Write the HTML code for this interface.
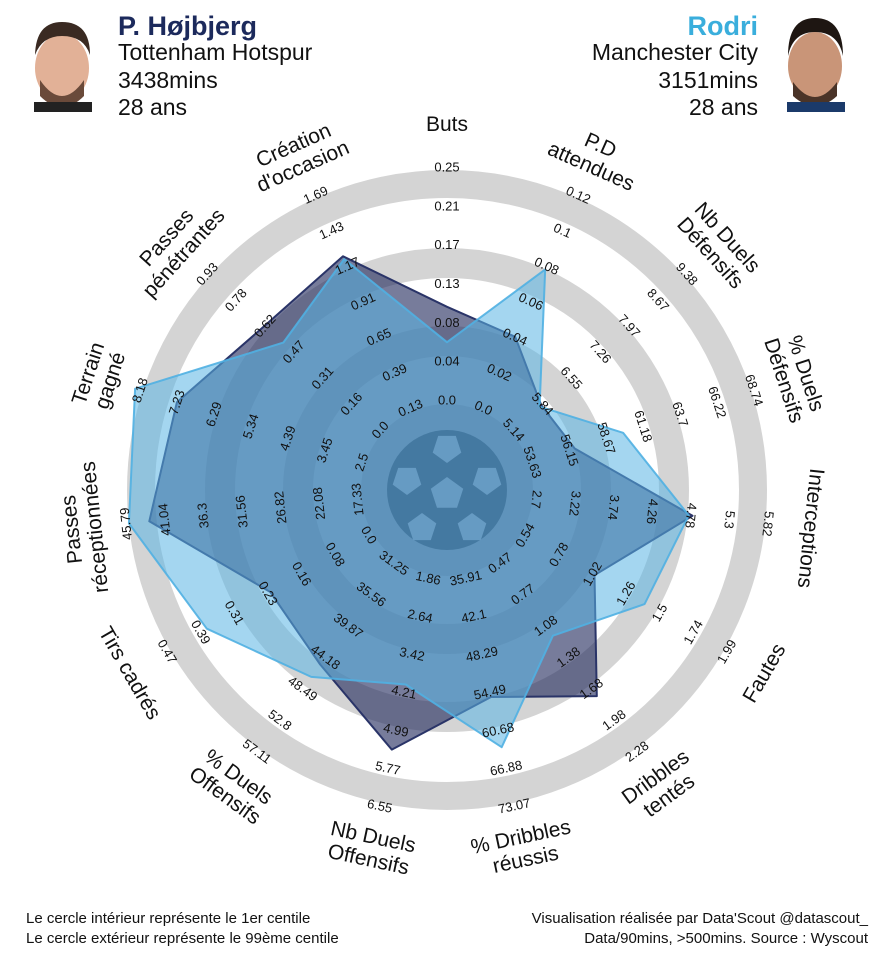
<!DOCTYPE html>
<html><head><meta charset="utf-8">
<style>
body{margin:0;background:#fff;}
svg{display:block;font-family:"Liberation Sans",sans-serif;}
</style></head>
<body>
<svg id="chart" width="880" height="978" viewBox="0 0 880 978" xmlns="http://www.w3.org/2000/svg">
  <rect width="880" height="978" fill="#fff"/>
  <!-- player photos (placeholder) -->
  <g>
    <rect x="30" y="20" width="66" height="92" fill="#fff"/>
    <ellipse cx="62" cy="68" rx="27" ry="34" fill="#e2b197"/>
    <path d="M35 55 Q36 22 62 22 Q90 22 90 55 Q84 36 62 36 Q42 36 35 55Z" fill="#3a2a22"/>
    <path d="M40 80 Q62 112 84 80 L84 96 Q62 118 40 96Z" fill="#6a4a3a"/>
    <rect x="34" y="102" width="58" height="10" fill="#222"/>
  </g>
  <g>
    <ellipse cx="815" cy="66" rx="27" ry="34" fill="#c99578"/>
    <path d="M788 56 Q788 18 815 18 Q843 18 843 56 Q838 32 815 32 Q793 32 788 56Z" fill="#1e1612"/>
    <path d="M793 82 Q815 112 837 82 L837 96 Q815 116 793 96Z" fill="#4a3428"/>
    <rect x="787" y="102" width="58" height="10" fill="#1b3a6a"/>
  </g>
  <text x="118" y="35" font-size="27" font-weight="bold" fill="#1c2a5c">P. Højbjerg</text>
  <text x="118" y="60" font-size="23" fill="#111">Tottenham Hotspur</text>
  <text x="118" y="88" font-size="23" fill="#111">3438mins</text>
  <text x="118" y="115" font-size="23" fill="#111">28 ans</text>
  <text x="758" y="35" font-size="27" font-weight="bold" fill="#3aaedc" text-anchor="end">Rodri</text>
  <text x="758" y="60" font-size="23" fill="#111" text-anchor="end">Manchester City</text>
  <text x="758" y="88" font-size="23" fill="#111" text-anchor="end">3151mins</text>
  <text x="758" y="115" font-size="23" fill="#111" text-anchor="end">28 ans</text>

  <g id="rings"></g>
  <g id="ball"></g>
  <g id="polys"></g>
  <g id="ticks"></g>
  <g id="params"></g>

  <text x="26" y="923" font-size="15" fill="#111">Le cercle intérieur représente le 1er centile</text>
  <text x="26" y="943" font-size="15" fill="#111">Le cercle extérieur représente le 99ème centile</text>
  <text x="868" y="923" font-size="15" fill="#111" text-anchor="end">Visualisation réalisée par Data'Scout @datascout_</text>
  <text x="868" y="943" font-size="15" fill="#111" text-anchor="end">Data/90mins, &gt;500mins. Source : Wyscout</text>
</svg>
<script>
const params = ["Buts","P.D\nattendues","Nb Duels\nDéfensifs","% Duels\nDéfensifs","Interceptions","Fautes","Dribbles\ntentés","% Dribbles\nréussis","Nb Duels\nOffensifs","% Duels\nOffensifs","Tirs cadrés","Passes\nréceptionnées","Terrain\ngagné","Passes\npénétrantes","Création\nd'occasion"];
const minRange = [0.0,0.0,5.14,53.63,2.7,0.54,0.47,35.91,1.86,31.25,0.0,17.33,2.5,0.0,0.13];
const maxRange = [0.25,0.12,9.38,68.74,5.82,1.99,2.28,73.07,6.55,57.11,0.47,45.79,8.18,0.93,1.69];
const tickLabels = [
 ["0.0","0.04","0.08","0.13","0.17","0.21","0.25"],
 ["0.0","0.02","0.04","0.06","0.08","0.1","0.12"],
 ["5.14","5.84","6.55","7.26","7.97","8.67","9.38"],
 ["53.63","56.15","58.67","61.18","63.7","66.22","68.74"],
 ["2.7","3.22","3.74","4.26","4.78","5.3","5.82"],
 ["0.54","0.78","1.02","1.26","1.5","1.74","1.99"],
 ["0.47","0.77","1.08","1.38","1.68","1.98","2.28"],
 ["35.91","42.1","48.29","54.49","60.68","66.88","73.07"],
 ["1.86","2.64","3.42","4.21","4.99","5.77","6.55"],
 ["31.25","35.56","39.87","44.18","48.49","52.8","57.11"],
 ["0.0","0.08","0.16","0.23","0.31","0.39","0.47"],
 ["17.33","22.08","26.82","31.56","36.3","41.04","45.79"],
 ["2.5","3.45","4.39","5.34","6.29","7.23","8.18"],
 ["0.0","0.16","0.31","0.47","0.62","0.78","0.93"],
 ["0.13","0.39","0.65","0.91","1.17","1.43","1.69"]
];
const hojbjergValues = [0.10,0.04,5.81,56.5,4.8,1.04,1.75,55.3,5.39,45.2,0.23,42.9,7.23,0.62,1.24];
const rodriValues = [0.062,0.078,5.77,59.8,4.75,1.4,1.17,63.5,4.05,46.9,0.378,45.4,8.3,0.52,1.22];

const NS="http://www.w3.org/2000/svg";
const CX=447, CY=490, R0=90, R1=323, N=params.length;
function angle(i){return (90-360*i/N)*Math.PI/180;}
function rScale(i,v){return R0+(v-minRange[i])/(maxRange[i]-minRange[i])*(R1-R0);}
function pt(i,r){const a=angle(i);return [CX+r*Math.cos(a),CY-r*Math.sin(a)];}
function rot(i){let d=90-(90-360*i/N);d=((d%360)+360)%360;if(d>100&&d<260)d-=180;return d;}
function mk(tag,attrs,parent){const e=document.createElementNS(NS,tag);for(const k in attrs)e.setAttribute(k,attrs[k]);parent.appendChild(e);return e;}

// rings
const rings=document.getElementById('rings');
const bands=[[292,320],[212,242],[134,164],[58,86]];
bands.forEach((b,k)=>{
  const c=mk('circle',{cx:CX,cy:CY,r:(b[0]+b[1])/2,fill:'none',stroke:'#d4d4d4','stroke-width':b[1]-b[0]},rings);
  
  
});

// ball
const ball=document.getElementById('ball');
mk('circle',{cx:CX,cy:CY,r:60,fill:'#444'},ball);
function pent(x,y,s,rotd){let p=[];for(let k=0;k<5;k++){const a=(rotd+72*k-90)*Math.PI/180;p.push((x+s*Math.cos(a)).toFixed(1)+','+(y+s*Math.sin(a)).toFixed(1));}return p.join(' ');}
mk('polygon',{points:pent(CX,CY+4,17,0),fill:'#fff'},ball);
[[CX,CY-42,180],[CX+40,CY-10,36],[CX+25,CY+38,0],[CX-25,CY+38,0],[CX-40,CY-10,-36]].forEach(p=>{
  mk('polygon',{points:pent(p[0],p[1],15,p[2]),fill:'#fff'},ball);
});

// polygons
const polys=document.getElementById('polys');
function polyPts(vals){return vals.map((v,i)=>pt(i,rScale(i,v)).map(n=>n.toFixed(1)).join(',')).join(' ');}
const p1=mk('polygon',{points:polyPts(hojbjergValues),fill:'rgba(28,36,88,0.6)',stroke:'#2a3468','stroke-width':2,'stroke-linejoin':'round'},polys);


const p2=mk('polygon',{points:polyPts(rodriValues),fill:'rgba(90,180,228,0.55)',stroke:'rgba(80,176,226,0.9)','stroke-width':2,'stroke-linejoin':'round'},polys);



// ticks
const ticks=document.getElementById('ticks');
tickLabels.forEach((arr,i)=>{
  arr.forEach((lab,k)=>{
    const [x,y]=pt(i,R0+k*(R1-R0)/(arr.length-1));
    const t=mk('text',{x:x.toFixed(1),y:y.toFixed(1),'font-size':13,fill:'#111','text-anchor':'middle','dominant-baseline':'central',transform:`rotate(${rot(i)} ${x.toFixed(1)} ${y.toFixed(1)})`},ticks);
    
    
    t.textContent=lab;
  });
});

// param labels
const pg=document.getElementById('params');
params.forEach((p,i)=>{
  const [x,y]=pt(i,366);
  const lines=p.split('\n');
  const g=mk('text',{x:x.toFixed(1),y:y.toFixed(1),'font-size':21,fill:'#111','text-anchor':'middle',transform:`rotate(${rot(i)} ${x.toFixed(1)} ${y.toFixed(1)})`},pg);
  
  
  lines.forEach((l,k)=>{
    const ts=mk('tspan',{x:x.toFixed(1),dy:k===0?((-(lines.length-1)*23/2)+7):23},g);
    ts.textContent=l;
  });
});
</script>
</body></html>
